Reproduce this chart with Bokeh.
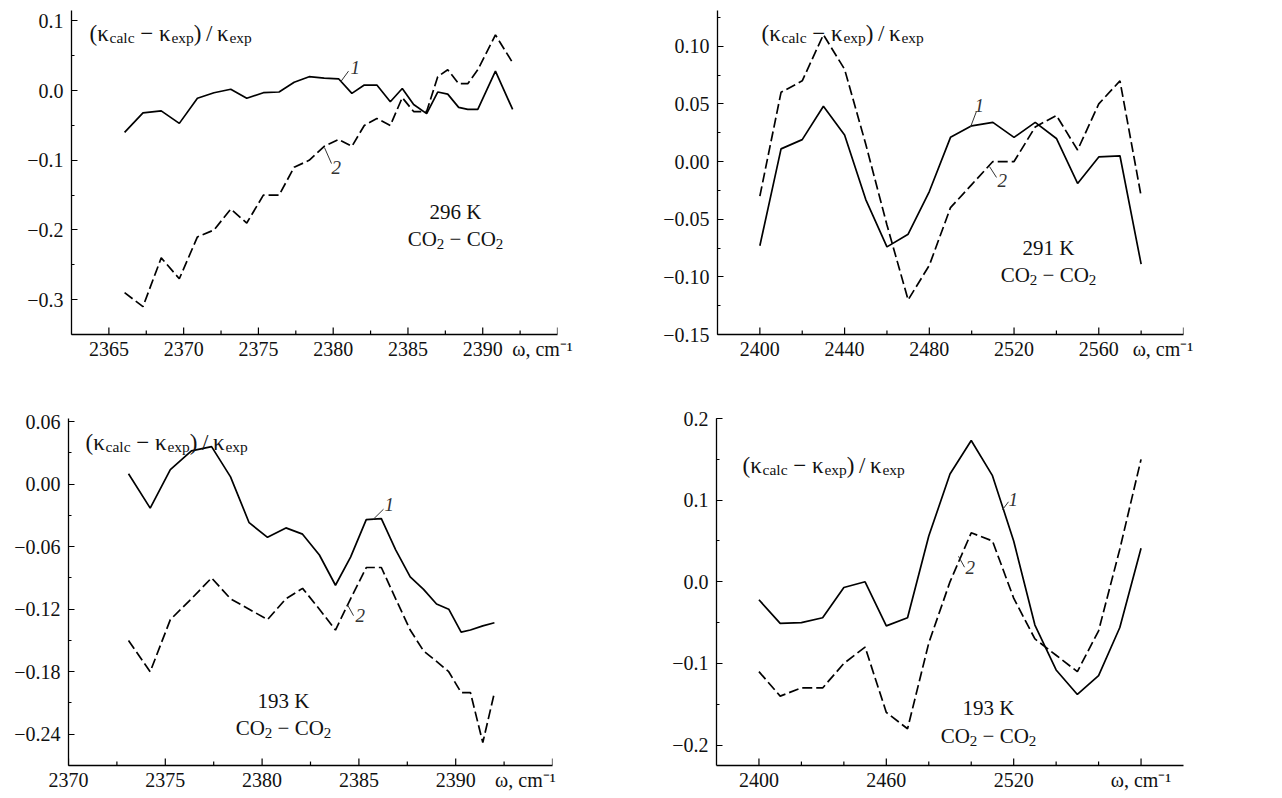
from bokeh.plotting import figure
from bokeh.models import Range1d, FixedTicker, CustomJSTickFormatter, Label
from bokeh.layouts import column, row
from bokeh.embed import file_html
from bokeh.resources import INLINE

FONT = "Liberation Serif"

# ---------------- data ----------------
# Panel A: 296 K, band near 2365-2392 cm-1
a_omega = [2366.05, 2367.28, 2368.50, 2369.71, 2370.92, 2372.03, 2373.15, 2374.22,
           2375.33, 2376.38, 2377.39, 2378.39, 2379.40, 2380.36, 2381.25, 2382.08,
           2382.92, 2383.82, 2384.62, 2385.38, 2386.25, 2386.99, 2387.66, 2388.39,
           2389.00, 2389.67, 2390.85, 2392.00]
a_curve1 = [-0.060, -0.032, -0.029, -0.047, -0.011, -0.003, 0.002, -0.011,
            -0.003, -0.002, 0.012, 0.020, 0.018, 0.017, -0.004, 0.008,
            0.008, -0.016, 0.003, -0.020, -0.033, -0.002, -0.005, -0.024,
            -0.027, -0.027, 0.028, -0.027]
a_curve2 = [-0.29, -0.31, -0.24, -0.27, -0.21, -0.20, -0.17, -0.19,
            -0.15, -0.15, -0.11, -0.10, -0.08, -0.07, -0.08, -0.05,
            -0.04, -0.05, -0.01, -0.03, -0.03, 0.02, 0.03, 0.01,
            0.01, 0.03, 0.08, 0.04]

# Panel B: 291 K, 2400-2580 cm-1
b_omega = [2400, 2410, 2420, 2430, 2440, 2450, 2460, 2470, 2480, 2490,
           2500, 2510, 2520, 2530, 2540, 2550, 2560, 2570, 2580]
b_curve1 = [-0.073, 0.011, 0.019, 0.048, 0.023, -0.033, -0.074, -0.063, -0.026, 0.021,
            0.031, 0.034, 0.021, 0.034, 0.020, -0.019, 0.004, 0.005, -0.089]
b_curve2 = [-0.03, 0.06, 0.07, 0.11, 0.08, 0.015, -0.055, -0.12, -0.09, -0.04,
            -0.02, 0.0, 0.0, 0.03, 0.04, 0.01, 0.05, 0.07, -0.03]

# Panel C: 193 K, 2373-2392 cm-1
c_omega = [2373.10, 2374.22, 2375.26, 2376.35, 2377.39, 2378.37, 2379.33, 2380.28,
           2381.23, 2382.09, 2382.96, 2383.79, 2384.57, 2385.38, 2386.16, 2386.90,
           2387.65, 2388.34, 2389.01, 2389.64, 2390.28, 2390.76, 2391.40, 2392.00]
c_curve1 = [0.010, -0.023, 0.014, 0.032, 0.036, 0.007, -0.037, -0.051,
            -0.042, -0.048, -0.068, -0.097, -0.070, -0.034, -0.033, -0.063,
            -0.089, -0.101, -0.115, -0.120, -0.142, -0.140, -0.136, -0.133]
c_curve2 = [-0.15, -0.18, -0.13, -0.11, -0.09, -0.11, -0.12, -0.13,
            -0.11, -0.10, -0.12, -0.14, -0.11, -0.08, -0.08, -0.11,
            -0.14, -0.16, -0.17, -0.18, -0.20, -0.20, -0.248, -0.20]

# Panel D: 193 K, 2400-2580 cm-1
d_omega = [2400, 2410, 2420, 2430, 2440, 2450, 2460, 2470, 2480, 2490,
           2500, 2510, 2520, 2530, 2540, 2550, 2560, 2570, 2580]
d_curve1 = [-0.022, -0.051, -0.050, -0.044, -0.007, 0.000, -0.054, -0.044, 0.056, 0.132,
            0.173, 0.130, 0.050, -0.053, -0.108, -0.138, -0.115, -0.056, 0.041]
d_curve2 = [-0.11, -0.14, -0.13, -0.13, -0.10, -0.08, -0.16, -0.18, -0.075, 0.0,
            0.06, 0.05, -0.02, -0.07, -0.09, -0.11, -0.06, 0.04, 0.15]

OMEGA_LABEL = "\u03c9, cm\u207b\u00b9"

# x tick marks (major / minor) and x tick labels
a_xmajor = [2365, 2370, 2375, 2380, 2385, 2390, 2395]
a_xminor = [2367.5, 2372.5, 2377.5, 2382.5, 2387.5, 2392.5]
a_xlabel_at = [2365, 2370, 2375, 2380, 2385, 2390, 2394.0]
a_xlabels = ["2365", "2370", "2375", "2380", "2385", "2390", OMEGA_LABEL]
a_yticks = [-0.3, -0.2, -0.1, 0.0, 0.1]
a_ylabels = ["\u22120.3", "\u22120.2", "\u22120.1", "0.0", "0.1"]

b_xmajor = [2400, 2440, 2480, 2520, 2560, 2600]
b_xminor = [2420, 2460, 2500, 2540, 2580]
b_xlabel_at = [2400, 2440, 2480, 2520, 2560, 2590.3]
b_xlabels = ["2400", "2440", "2480", "2520", "2560", OMEGA_LABEL]
b_yticks = [-0.15, -0.10, -0.05, 0.0, 0.05, 0.10]
b_ylabels = ["\u22120.15", "\u22120.10", "\u22120.05", "0.00", "0.05", "0.10"]

c_xmajor = [2370, 2375, 2380, 2385, 2390, 2395]
c_xminor = [2372.5, 2377.5, 2382.5, 2387.5, 2392.5]
c_xlabel_at = [2370, 2375, 2380, 2385, 2390, 2393.6]
c_xlabels = ["2370", "2375", "2380", "2385", "2390", OMEGA_LABEL]
c_yticks = [-0.24, -0.18, -0.12, -0.06, 0.0, 0.06]
c_ylabels = ["\u22120.24", "\u22120.18", "\u22120.12", "\u22120.06", "0.00", "0.06"]

d_xmajor = [2400, 2460, 2520, 2580]
d_xminor = [2420, 2440, 2480, 2500, 2540, 2560]
d_xlabel_at = [2400, 2460, 2520, 2580]
d_xlabels = ["2400", "2460", "2520", OMEGA_LABEL]
d_yticks = [-0.2, -0.1, 0.0, 0.1, 0.2]
d_ylabels = ["\u22120.2", "\u22120.1", "0.0", "0.1", "0.2"]

temps = ["296 K", "291 K", "193 K", "193 K"]

# ---------------- helpers ----------------
WIDTHS = {' ': 0.25, '(': 0.333, ')': 0.333, '/': 0.278, '\u2212': 0.564,
          'c': 0.444, 'a': 0.444, 'l': 0.278, 'e': 0.444, 'x': 0.5, 'p': 0.5,
          '\u03ba': 0.54, 'C': 0.667, 'O': 0.722, 'K': 0.722, ',': 0.25,
          'm': 0.778, '\u03c9': 0.69, '\u2009': 0.2, '1': 0.5, '2': 0.5}


def tw(s, size):
    return sum(WIDTHS.get(ch, 0.5) for ch in s) * size


class Geo:
    def __init__(self, ox, oy, w, h, fx0, fx1, fy0, fy1, xr, yr):
        self.ox, self.oy, self.w, self.h = ox, oy, w, h
        self.fx0, self.fx1, self.fy0, self.fy1 = fx0, fx1, fy0, fy1
        self.xr, self.yr = xr, yr

    def dx(self, px):
        return self.xr[0] + (px - self.fx0) / (self.fx1 - self.fx0) * (self.xr[1] - self.xr[0])

    def dy(self, py):
        return self.yr[1] - (py - self.fy0) / (self.fy1 - self.fy0) * (self.yr[1] - self.yr[0])

    def ylen(self, px):
        return px / (self.fy1 - self.fy0) * (self.yr[1] - self.yr[0])


def formatter(ticks, labels):
    return CustomJSTickFormatter(args=dict(tv=ticks, tl=labels), code="""
        for (let i = 0; i < tv.length; i++) {
            if (Math.abs(tv[i] - tick) < 1e-7) return tl[i];
        }
        return "";
    """)


def rich(p, g, x_px, base_px, pieces, color="#111111", center=False):
    total = sum(tw(t, s) for t, s, _ in pieces)
    x = x_px - total / 2 if center else x_px
    for t, s, d in pieces:
        lead = len(t) - len(t.lstrip(' '))
        txt = t.strip(' ')
        p.add_layout(Label(x=g.dx(x + tw(' ' * lead, s)), y=g.dy(base_px + d), text=txt,
                           text_font=FONT, text_font_size=f"{s}px",
                           text_baseline="alphabetic", text_align="left",
                           text_color=color))
        x += tw(t, s)


def make_panel(g, xs, y1, y2, xmajor, xminor, xlabel_at, xlabels, yticks, ylabels, yminor):
    p = figure(width=g.w, height=g.h, output_backend="svg", toolbar_location=None,
               x_range=Range1d(*g.xr), y_range=Range1d(*g.yr),
               min_border_left=g.fx0 - g.ox, min_border_right=g.ox + g.w - g.fx1,
               min_border_top=g.fy0 - g.oy, min_border_bottom=g.oy + g.h - g.fy1)
    p.outline_line_color = None
    p.xgrid.visible = False
    p.ygrid.visible = False
    p.background_fill_color = "white"
    p.border_fill_color = "white"

    p.xaxis.ticker = FixedTicker(ticks=xlabel_at, minor_ticks=[])
    p.yaxis.ticker = FixedTicker(ticks=yticks, minor_ticks=yminor)
    p.xaxis.formatter = formatter(xlabel_at, xlabels)
    p.yaxis.formatter = formatter(yticks, ylabels)
    for ax in (p.xaxis[0], p.yaxis[0]):
        ax.axis_line_color = "black"
        ax.axis_line_width = 1.3
        ax.major_tick_line_color = "black"
        ax.minor_tick_line_color = "black"
        ax.major_tick_line_width = 1.2
        ax.minor_tick_line_width = 1.2
        ax.major_tick_out = 0
        ax.minor_tick_out = 0
        ax.major_label_text_font = FONT
        ax.major_label_text_font_size = "20px"
        ax.major_label_text_color = "#111111"
    p.xaxis.major_tick_in = 0
    p.xaxis.minor_tick_in = 0
    p.yaxis.major_tick_in = 6
    p.yaxis.minor_tick_in = 3
    p.xaxis.major_label_standoff = 3
    p.yaxis.major_label_standoff = 8

    # inward x tick marks
    yb = g.yr[0]
    p.segment(x0=xmajor, x1=xmajor, y0=[yb] * len(xmajor), y1=[yb + g.ylen(7)] * len(xmajor),
              line_color="black", line_width=1.2)
    p.segment(x0=xminor, x1=xminor, y0=[yb] * len(xminor), y1=[yb + g.ylen(4)] * len(xminor),
              line_color="black", line_width=1.2)

    p.line(xs, y1, line_color="black", line_width=1.7)
    p.line(xs, y2, line_color="black", line_width=1.7, line_dash="10 4")
    return p


def title_pieces():
    return [("(\u03ba", 23, 0), ("calc", 15.5, 4), (" \u2212 \u03ba", 23, 0), ("exp", 15.5, 4),
            (")\u2009/\u2009\u03ba", 23, 0), ("exp", 15.5, 4)]


def co2_pieces():
    return [("CO", 21, 0), ("2", 15, 5), (" \u2212 CO", 21, 0), ("2", 15, 5)]


def curve_labels(p, g, lab1, lead1, lab2, lead2):
    p.segment(x0=[g.dx(lead1[0]), g.dx(lead2[0])], y0=[g.dy(lead1[1]), g.dy(lead2[1])],
              x1=[g.dx(lead1[2]), g.dx(lead2[2])], y1=[g.dy(lead1[3]), g.dy(lead2[3])],
              line_color="#333333", line_width=1)
    p.add_layout(Label(x=g.dx(lab1[0]), y=g.dy(lab1[1]), text="1", text_font=FONT,
                       text_font_style="italic", text_font_size="19px", text_color="#333333",
                       text_align="left", text_baseline="bottom"))
    p.add_layout(Label(x=g.dx(lab2[0]), y=g.dy(lab2[1]), text="2", text_font=FONT,
                       text_font_style="italic", text_font_size="19px", text_color="#333333",
                       text_align="left", text_baseline="top"))


# ---------------- panels ----------------
gA = Geo(0, 0, 640, 400, 71, 557, 8, 334, (2362.5, 2395), (-0.35, 0.115))
gB = Geo(640, 0, 642, 400, 717, 1183, 10, 338, (2380, 2600), (-0.15, 0.131))
gC = Geo(0, 400, 640, 398, 68, 552, 413, 765, (2370, 2395), (-0.27, 0.063))
gD = Geo(640, 400, 642, 398, 716, 1183, 418, 768, (2380, 2600), (-0.225, 0.2))

pA = make_panel(gA, a_omega, a_curve1, a_curve2, a_xmajor, a_xminor, a_xlabel_at, a_xlabels,
                a_yticks, a_ylabels, [-0.35 + 0.05 * i for i in range(10)])
pB = make_panel(gB, b_omega, b_curve1, b_curve2, b_xmajor, b_xminor, b_xlabel_at, b_xlabels,
                b_yticks, b_ylabels, [-0.15 + 0.025 * i for i in range(12)])
pC = make_panel(gC, c_omega, c_curve1, c_curve2, c_xmajor, c_xminor, c_xlabel_at, c_xlabels,
                c_yticks, c_ylabels, [-0.27 + 0.03 * i for i in range(12)])
pD = make_panel(gD, d_omega, d_curve1, d_curve2, d_xmajor, d_xminor, d_xlabel_at, d_xlabels,
                d_yticks, d_ylabels, [-0.2 + 0.05 * i for i in range(9)])

# y-quantity titles
rich(pA, gA, 89, 31, title_pieces())
rich(pB, gB, 761, 33, title_pieces())
rich(pC, gC, 85, 437, title_pieces())
rich(pD, gD, 742, 465, title_pieces())

# temperature / system annotations
for p, g, t, cx, b1, b2 in [(pA, gA, temps[0], 455, 211, 238),
                            (pB, gB, temps[1], 1048, 250, 278),
                            (pC, gC, temps[2], 283, 700, 727),
                            (pD, gD, temps[3], 988, 710, 738)]:
    p.add_layout(Label(x=g.dx(cx), y=g.dy(b1), text=t, text_font=FONT, text_font_size="21px",
                       text_color="#111111", text_align="center", text_baseline="alphabetic"))
    rich(p, g, cx, b2, co2_pieces(), center=True)

# curve numbers with leader lines
curve_labels(pA, gA, (350, 72), (340, 80, 348, 69), (331, 159), (324, 146, 331, 162))
curve_labels(pB, gB, (974, 113), (970, 128, 976, 112), (997, 176), (989, 168, 996, 179))
curve_labels(pC, gC, (384, 507), (373, 515, 383, 505), (355, 606), (347, 602, 353, 613))
curve_labels(pD, gD, (1008, 506), (1002, 510, 1008, 502), (965, 562), (958, 557, 964, 568))

layout = column(row(pA, pB, spacing=0), row(pC, pD, spacing=0), spacing=0)
open("out.html", "w").write(file_html(layout, INLINE))
